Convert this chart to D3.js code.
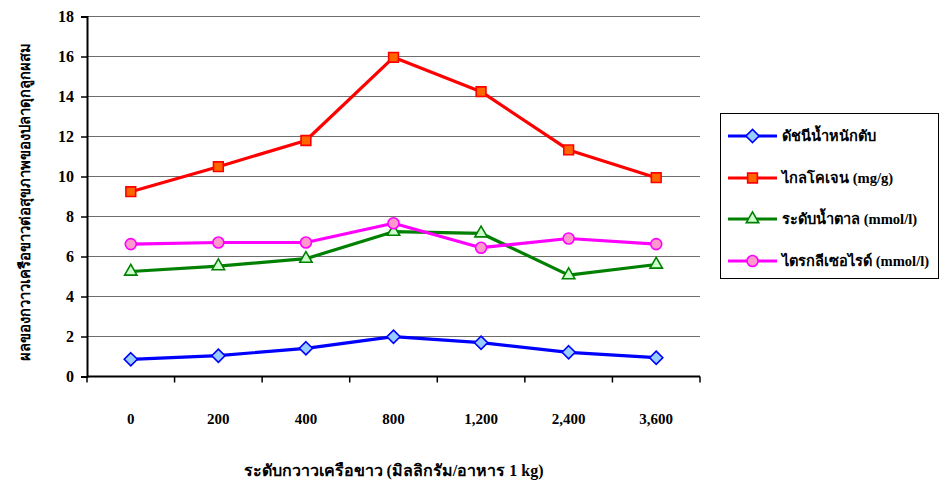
<!DOCTYPE html>
<html>
<head>
<meta charset="utf-8">
<script src="https://cdn.jsdelivr.net/npm/d3@7"></script>
<style>
  html, body { margin: 0; padding: 0; background: #fff; }
  svg { display: block; }
  text { font-family: "Liberation Serif", "Times New Roman", serif; font-weight: bold; fill: #000; }
</style>
</head>
<body>
<svg id="chart" width="940" height="484"></svg>
<script>
// Feed levels of white kwao krua (mg per 1 kg of feed)
const categories = ["0", "200", "400", "800", "1,200", "2,400", "3,600"];

// Series values per feed level
const liverIndex   = [0.86, 1.04, 1.41, 1.99, 1.69, 1.21, 0.94];
const glycogen     = [9.24, 10.49, 11.80, 15.96, 14.24, 11.33, 9.94];
const bloodSugar   = [5.25, 5.52, 5.89, 7.24, 7.16, 5.07, 5.60];
const triglyceride = [6.62, 6.70, 6.70, 7.66, 6.44, 6.90, 6.62];

const seriesNames = ["ดัชนีน้ำหนักตับ", "ไกลโคเจน (mg/g)", "ระดับน้ำตาล (mmol/l)", "ไตรกลีเซอไรด์ (mmol/l)"];
const yTicks = [0, 2, 4, 6, 8, 10, 12, 14, 16, 18];

const xTitle = "ระดับกวาวเครือขาว (มิลลิกรัม/อาหาร 1 kg)";
const yTitle = "ผลของกวาวเครือขาวต่อสุขภาพของปลาดุกลูกผสม";

const series = [
  { name: seriesNames[0], values: liverIndex,   color: "#0000ff", fill: "#99ccff", shape: "diamond" },
  { name: seriesNames[1], values: glycogen,     color: "#ff0000", fill: "#ff6600", shape: "square" },
  { name: seriesNames[2], values: bloodSugar,   color: "#008000", fill: "#ccffcc", shape: "triangle" },
  { name: seriesNames[3], values: triglyceride, color: "#ff00ff", fill: "#ff99cc", shape: "circle" }
];

const svg = d3.select("#chart");
const plot = { left: 87, right: 700, top: 16.5, bottom: 376.5 };

const x = d3.scaleBand().domain(categories).range([plot.left, plot.right]);
const y = d3.scaleLinear().domain([0, 18]).range([plot.bottom, plot.top]);

// Horizontal gridlines
svg.append("g")
  .selectAll("line")
  .data(yTicks.filter(d => d > 0))
  .join("line")
  .attr("x1", plot.left).attr("x2", plot.right)
  .attr("y1", d => y(d)).attr("y2", d => y(d))
  .attr("stroke", "#6e6e6e").attr("stroke-width", 1.2);

// Y axis
const yAxis = svg.append("g")
  .attr("transform", `translate(${plot.left},0)`)
  .call(d3.axisLeft(y).tickValues(yTicks).tickSize(6).tickPadding(7).tickFormat(d3.format("d")));
yAxis.select(".domain").attr("stroke", "#000").attr("stroke-width", 2);
yAxis.selectAll(".tick line").attr("stroke", "#000").attr("stroke-width", 1.5);
yAxis.selectAll(".tick text")
  .style("font-family", "Liberation Serif, serif").style("font-weight", "bold")
  .style("font-size", "16px").attr("fill", "#000");

// X axis: ticks at band boundaries, labels under band centres
const bounds = categories.map(c => x(c)).concat([plot.right]);
const xg = svg.append("g");
xg.append("line")
  .attr("x1", plot.left).attr("x2", plot.right)
  .attr("y1", plot.bottom).attr("y2", plot.bottom)
  .attr("stroke", "#000").attr("stroke-width", 2);
xg.selectAll("line.tick")
  .data(bounds)
  .join("line")
  .attr("class", "tick")
  .attr("x1", d => d).attr("x2", d => d)
  .attr("y1", plot.bottom).attr("y2", plot.bottom + 6)
  .attr("stroke", "#000").attr("stroke-width", 1.5);
xg.selectAll("text")
  .data(categories)
  .join("text")
  .attr("x", d => x(d) + x.bandwidth() / 2)
  .attr("y", 424)
  .attr("text-anchor", "middle")
  .style("font-size", "15px")
  .text(d => d);

// Axis titles
svg.append("text")
  .attr("x", (plot.left + plot.right) / 2)
  .attr("y", 476)
  .attr("text-anchor", "middle")
  .style("font-size", "16px")
  .text(xTitle);

svg.append("text")
  .attr("transform", `translate(30, ${(plot.top + plot.bottom) / 2 + 5}) rotate(-90)`)
  .attr("text-anchor", "middle")
  .style("font-size", "14.8px")
  .text(yTitle);

// Marker drawing
const symbolFor = {
  diamond: d3.symbol().type(d3.symbolDiamond2).size(110),
  square: d3.symbol().type(d3.symbolSquare).size(95),
  triangle: d3.symbol().type(d3.symbolTriangle2).size(110),
  circle: d3.symbol().type(d3.symbolCircle).size(95)
};

function drawMarker(g, s, cx, cy) {
  g.append("path")
    .attr("d", symbolFor[s.shape]())
    .attr("transform", `translate(${cx},${cy})`)
    .attr("fill", s.fill)
    .attr("stroke", s.color)
    .attr("stroke-width", 1.6);
}

const line = d3.line()
  .x((d, i) => x(categories[i]) + x.bandwidth() / 2)
  .y(d => y(d));

series.forEach(s => {
  const g = svg.append("g");
  g.append("path")
    .datum(s.values)
    .attr("d", line)
    .attr("fill", "none")
    .attr("stroke", s.color)
    .attr("stroke-width", 3.2)
    .attr("stroke-linejoin", "round");
  s.values.forEach((v, i) => drawMarker(g, s, x(categories[i]) + x.bandwidth() / 2, y(v)));
});

// Legend
const legend = svg.append("g");
legend.append("rect")
  .attr("x", 720.5).attr("y", 113.5)
  .attr("width", 218).attr("height", 165)
  .attr("fill", "#fff").attr("stroke", "#000").attr("stroke-width", 1);

const legendY = [136, 178, 219, 261];
series.forEach((s, i) => {
  const ly = legendY[i];
  legend.append("line")
    .attr("x1", 728).attr("x2", 777)
    .attr("y1", ly).attr("y2", ly)
    .attr("stroke", s.color).attr("stroke-width", 3.2);
  drawMarker(legend, s, 752.5, ly);
  legend.append("text")
    .attr("x", 782).attr("y", ly + 5)
    .style("font-size", "14.6px")
    .text(s.name);
});
</script>
</body>
</html>
